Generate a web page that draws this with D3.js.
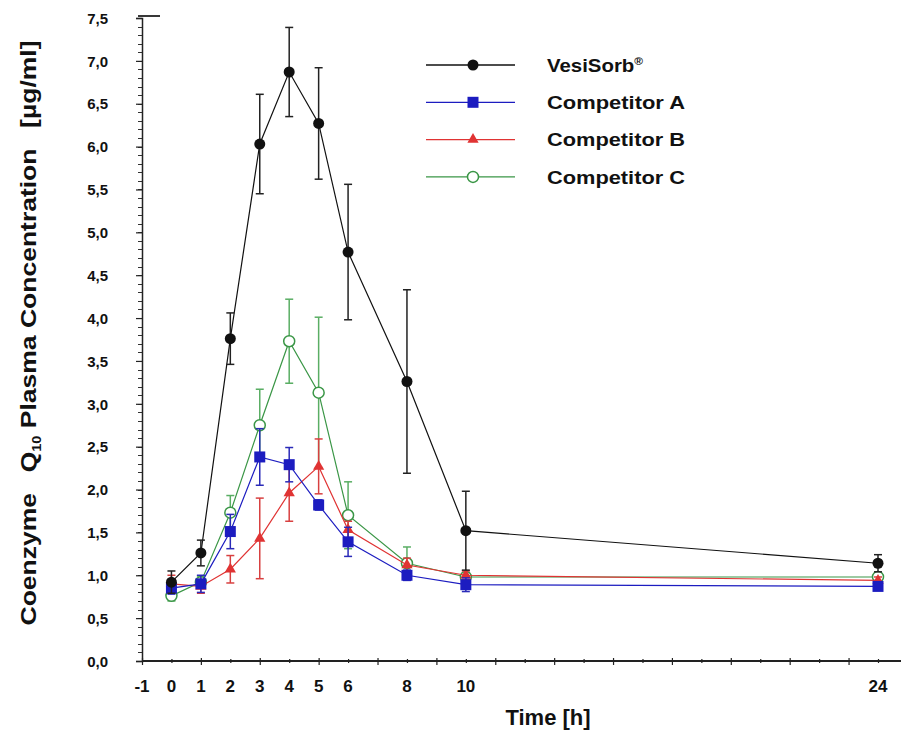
<!DOCTYPE html>
<html>
<head>
<meta charset="utf-8">
<script src="https://cdn.jsdelivr.net/npm/d3@7"></script>
<style>
  body { margin: 0; background: #fff; }
  text { font-family: "Liberation Sans", Arial, sans-serif; font-weight: bold; fill: #111; }
</style>
</head>
<body>
<div id="chart"></div>
<script>
// Sampling times [h]
const hours = [0, 1, 2, 3, 4, 5, 6, 8, 10, 24];

// Mean plasma concentrations [µg/ml] and error bars
const vesiSorb    = [0.92, 1.26, 3.76, 6.03, 6.87, 6.27, 4.77, 3.26, 1.52, 1.14];
const vesiSorbErr = [0.13, 0.15, 0.30, 0.58, 0.52, 0.65, 0.79, 1.07, 0.46, 0.10];
const compA       = [0.85, 0.90, 1.51, 2.38, 2.29, 1.82, 1.39, 1.00, 0.89, 0.87];
const compAErr    = [0.07, 0.10, 0.20, 0.33, 0.20, 0.06, 0.17, 0.06, 0.08, 0.04];
const compB       = [0.90, 0.87, 1.07, 1.43, 1.96, 2.27, 1.53, 1.12, 1.00, 0.94];
const compBErr    = [0.10, 0.08, 0.16, 0.47, 0.33, 0.32, 0.10, 0.08, 0.05, 0.04];
const compC       = [0.76, 0.92, 1.73, 2.75, 3.73, 3.13, 1.70, 1.14, 0.98, 0.98];
const compCErr    = [0.06, 0.07, 0.20, 0.42, 0.49, 0.88, 0.39, 0.19, 0.05, 0.05];

// Axis labels
const xTickLabels = [-1, 0, 1, 2, 3, 4, 5, 6, 8, 10, 24];
const yTickLabels = [0, 0.5, 1, 1.5, 2, 2.5, 3, 3.5, 4, 4.5, 5, 5.5, 6, 6.5, 7, 7.5];
const seriesNames = ["VesiSorb®", "Competitor A", "Competitor B", "Competitor C"];

const width = 901, height = 733;

const svg = d3.select("#chart").append("svg")
    .attr("width", width)
    .attr("height", height);

const x = d3.scaleLinear().domain([-1, 24]).range([142, 878]);
const y = d3.scaleLinear().domain([0, 7.5]).range([661, 18]);

// Y axis minor ticks every 0.1
svg.append("g")
    .selectAll("line")
    .data(d3.range(0, 76).map(i => i / 10))
    .join("line")
    .attr("x1", x(-1) - 4).attr("x2", x(-1) + 1)
    .attr("y1", d => Math.round(y(d)) + 0.5).attr("y2", d => Math.round(y(d)) + 0.5)
    .attr("stroke", "#333").attr("stroke-width", 1);

// Y axis major ticks + labels
svg.append("g")
    .attr("transform", `translate(${x(-1)},0)`)
    .call(d3.axisLeft(y).tickValues(yTickLabels).tickSize(6).tickPadding(28)
        .tickFormat(d => d3.format(".1f")(d).replace(".", ",")))
    .call(g => g.select(".domain").attr("stroke", "#222").attr("stroke-width", 1.5))
    .call(g => g.selectAll("line").attr("stroke", "#222").attr("stroke-width", 1.2))
    .call(g => g.selectAll("text").style("font-size", "15px").attr("dy", "0.35em"));

// short stub at top of the y axis
svg.append("line")
    .attr("x1", x(-1) - 4).attr("x2", x(-1) + 18)
    .attr("y1", y(7.5) - 2).attr("y2", y(7.5) - 2)
    .attr("stroke", "#222").attr("stroke-width", 1.8);

// X axis: ticks every hour, longer on odd hours
svg.append("line")
    .attr("x1", x(-1)).attr("x2", width)
    .attr("y1", y(0)).attr("y2", y(0))
    .attr("stroke", "#222").attr("stroke-width", 1.8);

svg.append("g")
    .attr("transform", `translate(0,${y(0)})`)
    .call(d3.axisBottom(x).tickValues(d3.range(-1, 25)).tickSize(0).tickFormat(""))
    .call(g => g.select(".domain").remove())
    .call(g => g.selectAll(".tick line")
        .attr("y1", d => (Math.abs(d % 2) === 1 ? -3 : -2))
        .attr("y2", d => (Math.abs(d % 2) === 1 ? 4 : 2))
        .attr("stroke", "#222").attr("stroke-width", 1.2));

svg.append("g")
    .selectAll("text")
    .data(xTickLabels)
    .join("text")
    .attr("x", d => x(d))
    .attr("y", 692)
    .attr("text-anchor", "middle")
    .style("font-size", "17px")
    .text(d => d);

// Axis titles
svg.append("text")
    .attr("x", 548).attr("y", 725)
    .attr("text-anchor", "middle")
    .style("font-size", "22px")
    .text("Time [h]");

const yTitle = svg.append("text")
    .attr("transform", "translate(36,333) rotate(-90)")
    .attr("text-anchor", "middle")
    .style("font-size", "22px")
    .attr("textLength", 585)
    .attr("lengthAdjust", "spacingAndGlyphs");
yTitle.append("tspan").text("Coenzyme\u2002 Q");
yTitle.append("tspan").attr("dy", 5).style("font-size", "12px").text("10");
yTitle.append("tspan").attr("dy", -5).text(" Plasma Concentration\u2002 [µg/ml]");

// Series setup
const series = [
    { name: seriesNames[3], values: compC, err: compCErr, color: "#3a9646", errColor: "#5aae64", shape: "openCircle" },
    { name: seriesNames[2], values: compB, err: compBErr, color: "#e03333", errColor: "#d84040", shape: "triangle" },
    { name: seriesNames[1], values: compA, err: compAErr, color: "#1c1cc0", errColor: "#2a2ab8", shape: "square" },
    { name: seriesNames[0], values: vesiSorb, err: vesiSorbErr, color: "#111", errColor: "#222", shape: "circle" }
];

function drawMarker(sel, shape, color) {
    if (shape === "circle") {
        sel.append("circle").attr("r", 5.5).attr("fill", color);
    } else if (shape === "openCircle") {
        sel.append("circle").attr("r", 5.5).attr("fill", "#fff").attr("stroke", color).attr("stroke-width", 1.5);
    } else if (shape === "square") {
        sel.append("rect").attr("x", -5.5).attr("y", -5.5).attr("width", 11).attr("height", 11).attr("fill", color);
    } else {
        sel.append("path").attr("d", d3.symbol(d3.symbolTriangle, 55)()).attr("fill", color);
    }
}

const line = d3.line().x(d => x(d[0])).y(d => y(d[1]));

series.forEach(s => {
    const pts = hours.map((h, i) => [h, s.values[i], s.err[i]]);
    const g = svg.append("g");

    g.append("path")
        .datum(pts)
        .attr("d", line)
        .attr("fill", "none")
        .attr("stroke", s.color)
        .attr("stroke-width", 1.2);

    const eb = g.append("g").selectAll("g").data(pts).join("g")
        .attr("stroke", s.errColor).attr("stroke-width", 1.5);
    eb.append("line")
        .attr("x1", d => x(d[0])).attr("x2", d => x(d[0]))
        .attr("y1", d => y(d[1] - d[2])).attr("y2", d => y(d[1] + d[2]));
    eb.append("line")
        .attr("x1", d => x(d[0]) - 4).attr("x2", d => x(d[0]) + 4)
        .attr("y1", d => y(d[1] + d[2])).attr("y2", d => y(d[1] + d[2]));
    eb.append("line")
        .attr("x1", d => x(d[0]) - 4).attr("x2", d => x(d[0]) + 4)
        .attr("y1", d => y(d[1] - d[2])).attr("y2", d => y(d[1] - d[2]));

    g.append("g").selectAll("g").data(pts).join("g")
        .attr("transform", d => `translate(${x(d[0])},${y(d[1])})`)
        .each(function () { drawMarker(d3.select(this), s.shape, s.color); });
});

// Legend
const legend = svg.append("g").attr("transform", "translate(426,65)");
const legendItems = series.slice().reverse();
legendItems.forEach((s, i) => {
    const row = legend.append("g").attr("transform", `translate(0,${i * 37.3})`);
    row.append("line").attr("x1", 0).attr("x2", 89).attr("stroke", s.color).attr("stroke-width", 1.3);
    drawMarker(row.append("g").attr("transform", "translate(47,0)"), s.shape, s.color);
    row.append("text")
        .attr("x", 121).attr("dy", "0.35em")
        .style("font-size", "19px")
        .attr("textLength", i === 0 ? 96 : 138)
        .attr("lengthAdjust", "spacingAndGlyphs")
        .text(s.name.replace("®", ""))
        .call(t => { if (i === 0) t.append("tspan").attr("dy", -7).style("font-size", "11px").text("®"); });
});
</script>
</body>
</html>
